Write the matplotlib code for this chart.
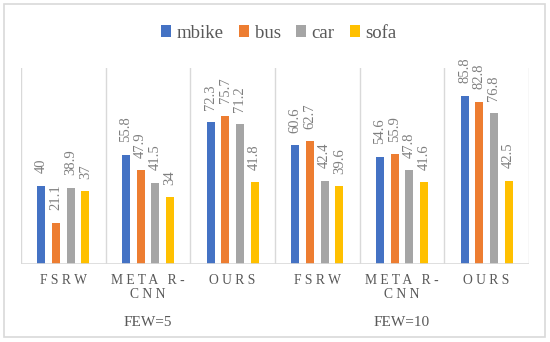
import matplotlib.pyplot as plt
from matplotlib.patches import Patch, Rectangle
import numpy as np

plt.rcParams['font.family'] = ['Liberation Serif', 'DejaVu Serif']

methods = ['F S R W', 'M E T A   R -\nC N N', 'O U R S',
           'F S R W', 'M E T A   R -\nC N N', 'O U R S']
settings = ['FEW=5', 'FEW=10']
series = ['mbike', 'bus', 'car', 'sofa']
mbike = [40, 55.8, 72.3, 60.6, 54.6, 85.8]
bus = [21.1, 47.9, 75.7, 62.7, 55.9, 82.8]
car = [38.9, 41.5, 71.2, 42.4, 47.8, 76.8]
sofa = [37, 34, 41.8, 39.6, 41.6, 42.5]
colors = ['#4472C4', '#ED7D31', '#A5A5A5', '#FFC000']

W, H = 550, 342
fig = plt.figure(figsize=(W / 100, H / 100), dpi=100)
# outer chart border
fig.patches.append(Rectangle((4 / W, 5 / H), 541 / W, 333 / H, transform=fig.transFigure,
                             fill=False, edgecolor='#D9D9D9', linewidth=1.2))

ax = fig.add_axes([21 / W, (H - 264) / H, 508 / W, 196 / H])
x = np.arange(len(methods))
pitch = 0.173
bw = 0.095
for i, (vals, c) in enumerate(zip([mbike, bus, car, sofa], colors)):
    xs = x + (i - 1.5) * pitch
    ax.bar(xs, vals, width=bw, color=c, zorder=3)
    for xi, v in zip(xs, vals):
        ax.annotate(f'{v:g}', (xi, v), xytext=(0, 9), textcoords='offset points',
                    rotation=90, ha='center', va='bottom', fontsize=10.5, color='#7F7F7F')

ax.set_xlim(-0.5, len(methods) - 0.5)
ax.set_ylim(0, 100)
for s in ax.spines.values():
    s.set_visible(False)
ax.set_xticks([])
ax.set_yticks([])
for b in np.arange(-0.5, len(methods), 1):
    ax.axvline(b, color='#D9D9D9', linewidth=1.0, zorder=1)
ax.axhline(0, color='#D9D9D9', linewidth=1.2, zorder=4)

tr = ax.get_xaxis_transform()
for xi, m in zip(x, methods):
    yc = -24 / 196 if '\n' in m else -17 / 196
    ax.text(xi, yc, m, transform=tr, ha='center', va='center', fontsize=9.8,
            color='#595959', linespacing=1.1)
for k, s in enumerate(settings):
    ax.text(3 * k + 1, -59 / 196, s, transform=tr, ha='center', va='center',
            fontsize=11, color='#595959')

handles = [Patch(facecolor=c, edgecolor='none') for c in colors]
fig.legend(handles, series, loc='center', bbox_to_anchor=(0.507, 1 - 33 / H), ncol=4,
           frameon=False, fontsize=13.5, handlelength=0.55, handleheight=0.55,
           handletextpad=0.3, columnspacing=0.8, labelcolor='#595959')

fig.savefig('out.png', dpi=100)
